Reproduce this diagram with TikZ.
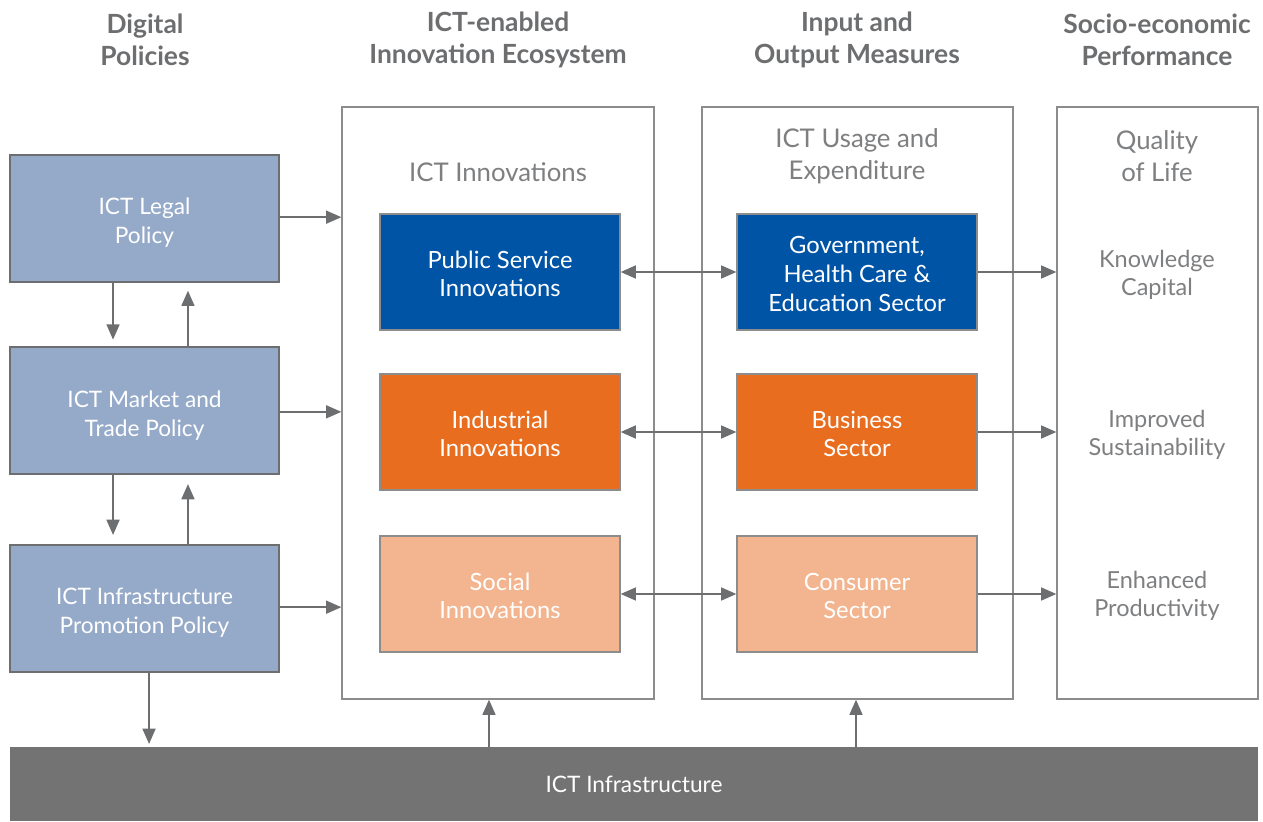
\documentclass[tikz,border=0pt]{standalone}
\usepackage{fontspec}
\setmainfont{Lato}
\usetikzlibrary{arrows.meta,calc}
\definecolor{txtgray}{HTML}{6D6E70}
\definecolor{ltgray}{HTML}{7E7F81}
\definecolor{boxline}{HTML}{8C8C8C}
\definecolor{polfill}{HTML}{95A9C9}
\definecolor{pubblue}{HTML}{0054A6}
\definecolor{indorange}{HTML}{E86D1F}
\definecolor{socpeach}{HTML}{F3B58F}
\definecolor{infragray}{HTML}{737374}
\tikzset{
  header/.style={font=\fontsize{19.8}{24}\selectfont\bfseries, text=txtgray, align=center},
  coltitle/.style={font=\fontsize{19.3}{24}\selectfont, text=ltgray, align=center},
  outcome/.style={font=\fontsize{17.6}{21}\selectfont, text=ltgray, align=center},
  policy/.style={draw=txtgray, line width=0.9pt, fill=polfill, minimum width=201.75pt, minimum height=95.25pt, inner sep=0pt},
  poltext/.style={text=white, align=center, font=\fontsize{17}{21.5}\selectfont, inner sep=0pt, yshift=-3.2pt},
  container/.style={draw=boxline, line width=0.8pt, fill=white, minimum height=444pt, inner sep=0pt},
  inner/.style={draw=boxline, line width=0.8pt, minimum width=180pt, minimum height=87pt, inner sep=0pt},
  innertext/.style={text=white, align=center, font=\fontsize{17.8}{21.5}\selectfont, inner sep=0pt, yshift=-1.5pt},
  arrowhd/.tip={Triangle[length=11.5pt,width=9.5pt]},
  flow/.style={draw=txtgray, line width=1.9pt, -arrowhd},
  biflow/.style={draw=txtgray, line width=1.9pt, arrowhd-arrowhd},
}
\begin{document}
\begin{tikzpicture}[x=0.75pt,y=-0.75pt]
\useasboundingbox (0,0) rectangle (1263,821);

% column headers
\node[header] (h1) at (145,40) {Digital\\Policies};
\node[header] (h2) at (498,40) {ICT-enabled\\Innovation Ecosystem};
\node[header] (h3) at (857,40) {Input and\\Output Measures};
\node[header] (h4) at (1157,40) {Socio-economic\\Performance};

% column containers
\node[container, minimum width=234pt] (eco) at (498,403) {};
\node[container, minimum width=233.25pt] (usage) at (857.5,403) {};
\node[container, minimum width=150.75pt] (qol) at (1157.5,403) {};

\node[coltitle] (t1) at (498,172) {ICT Innovations};
\node[coltitle] (t2) at (857,156) {ICT Usage and\\Expenditure};
\node[coltitle] (t3) at (1157,156) {Quality\\of Life};

% policy boxes
\node[policy, label={[poltext]center:{ICT Legal\\Policy}}] (legal) at (144.5,218.5) {};
\node[policy, label={[poltext, yshift=-0.6pt]center:{ICT Market and\\Trade Policy}}] (market) at (144.5,410.5) {};
\node[policy, label={[poltext]center:{ICT Infrastructure\\Promotion Policy}}] (promo) at (144.5,608.5) {};

% innovation boxes
\node[inner, fill=pubblue, label={[innertext]center:{Public Service\\Innovations}}] (psi) at (500,272) {};
\node[inner, fill=indorange, label={[innertext]center:{Industrial\\Innovations}}] (ind) at (500,432) {};
\node[inner, fill=socpeach, label={[innertext]center:{Social\\Innovations}}] (soc) at (500,594) {};

% sector boxes
\node[inner, fill=pubblue, label={[innertext]center:{Government,\\Health Care \&\\Education Sector}}] (gov) at (857,272) {};
\node[inner, fill=indorange, label={[innertext]center:{Business\\Sector}}] (bus) at (857,432) {};
\node[inner, fill=socpeach, label={[innertext]center:{Consumer\\Sector}}] (con) at (857,594) {};

% outcomes
\node[outcome] (o1) at (1157,275) {Knowledge\\Capital};
\node[outcome] (o2) at (1157,435) {Improved\\Sustainability};
\node[outcome] (o3) at (1157,596) {Enhanced\\Productivity};

% infrastructure bar
\node[fill=infragray, minimum width=936pt, minimum height=55.5pt, inner sep=0pt, text=white,
  font=\fontsize{17}{20}\selectfont] (infra) at (634,784) {ICT Infrastructure};

% policies into the ecosystem
\draw[flow] ([yshift=1pt]legal.east) -- ([yshift=1pt]legal.east -| eco.west);
\draw[flow] ([yshift=-1pt]market.east) -- ([yshift=-1pt]market.east -| eco.west);
\draw[flow] ([yshift=1pt]promo.east) -- ([yshift=1pt]promo.east -| eco.west);

% between policy levels
\draw[flow, shorten >=5pt] ([xshift=-23.6pt]legal.south) -- ([xshift=-23.6pt]legal.south |- market.north);
\draw[flow, shorten >=6pt] ([xshift=32.6pt]market.north) -- ([xshift=32.6pt]market.north |- legal.south);
\draw[flow, shorten >=7pt] ([xshift=-23.6pt]market.south) -- ([xshift=-23.6pt]market.south |- promo.north);
\draw[flow, shorten >=7pt] ([xshift=32.6pt]promo.north) -- ([xshift=32.6pt]promo.north |- market.south);
\draw[flow, shorten >=2pt] ([xshift=3.4pt]promo.south) -- ([xshift=3.4pt]promo.south |- infra.north);

% innovations <-> sectors
\draw[biflow] (psi.east) -- (gov.west);
\draw[biflow] (ind.east) -- (bus.west);
\draw[biflow] (soc.east) -- (con.west);

% sectors into performance
\draw[flow] (gov.east) -- (gov.east -| qol.west);
\draw[flow] (bus.east) -- (bus.east -| qol.west);
\draw[flow] (con.east) -- (con.east -| qol.west);

% infrastructure supports both middle columns
\draw[flow] (infra.north -| 489,0) -- (489,0 |- eco.south);
\draw[flow] (infra.north -| 856,0) -- (856,0 |- usage.south);
\end{tikzpicture}
\end{document}
